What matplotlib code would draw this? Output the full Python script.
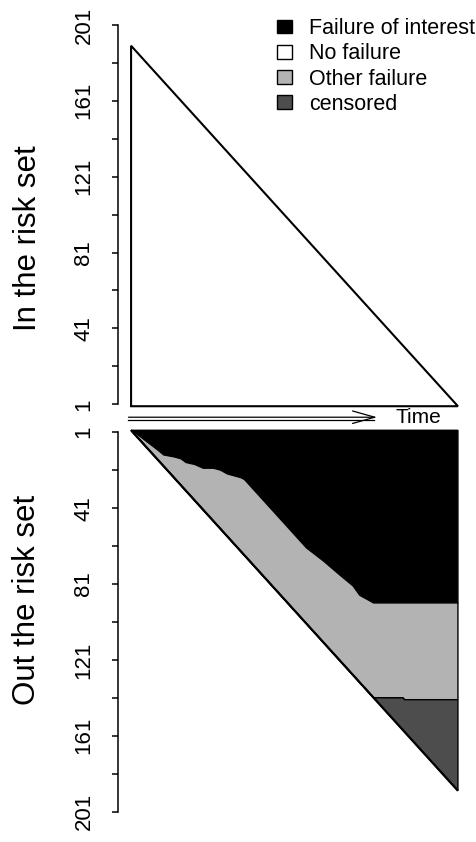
import numpy as np
import matplotlib
matplotlib.use('Agg')
import matplotlib.pyplot as plt
from matplotlib.patches import Patch

plt.rcParams['font.family'] = ['Liberation Sans', 'DejaVu Sans']

# number of subjects, ordered by time
n = 190

# in the risk set: straight decrease from n to 0
risk_idx = [0, n]
at_risk = [n, 0]

# cumulative failures of interest
idx = [0, 2, 15, 19, 25, 29, 32, 37, 42, 48, 52, 56, 64, 66, 71, 82, 92, 102, 112, 121, 129, 133, 137, 141, 190]
cum_interest = [0, 1, 10, 13, 14, 15, 17, 18, 20, 20, 21, 23, 25, 26, 31, 42, 52, 62, 69, 76, 82, 87, 89, 91, 91]

# cumulative failures of any cause (rest out of the risk set is censored)
evt_idx = [0, 141, 158, 159, 190]
evt_count = [0, 141, 141, 142, 142]

yticks = list(range(1, 202, 20))
ylabels = [str(t) if (t - 1) % 40 == 0 else '' for t in yticks]

col_interest = '#000000'
col_none = '#FFFFFF'
col_other = '#B3B3B3'
col_cens = '#4D4D4D'

W, H = 476, 842
fig = plt.figure(figsize=(W / 100, H / 100), dpi=100)

def px_axes(left, top, right, bottom):
    return fig.add_axes([left / W, 1 - bottom / H, (right - left) / W, (bottom - top) / H])

ax1 = px_axes(118, 9.7, 471, 419.5)
ax2 = px_axes(118, 417.0, 471, 826.8)

for ax in (ax1, ax2):
    ax.set_facecolor('none')
    ax.set_xlim(-7.6, n + 7.6)
    for s in ('top', 'right', 'bottom'):
        ax.spines[s].set_visible(False)
    ax.spines['left'].set_bounds(1, 201)
    ax.spines['left'].set_linewidth(1.1)
    ax.set_xticks([])
    ax.set_yticks(yticks)
    ax.set_yticklabels(ylabels, rotation=90, va='center')
    ax.tick_params(axis='y', length=4, width=1.1, pad=13, labelsize=16)

ax1.set_ylim(-7, 209)
ax2.set_ylim(209, -7)

# top panel: still in the risk set
ax1.fill([risk_idx[0]] + risk_idx, [0] + at_risk, facecolor=col_none,
         edgecolor='black', linewidth=1.5)

# bottom panel: out of the risk set
bx = idx + [n, 0]
by = cum_interest + [0, 0]
ax2.fill(bx, by, facecolor=col_interest, edgecolor='black', linewidth=1)
gx = idx + evt_idx[::-1]
gy = cum_interest + evt_count[::-1]
ax2.fill(gx, gy, facecolor=col_other, edgecolor='black', linewidth=1)
cx = evt_idx + [n]
cy = evt_count + [n]
ax2.fill(cx, cy, facecolor=col_cens, edgecolor='black', linewidth=1)
ax2.plot([0, n], [0, n], color='black', linewidth=1.6, solid_capstyle='butt')

# time arrow between the panels
ax1.annotate('', xy=(143, -5.8), xytext=(-1.5, -5.8), annotation_clip=False,
             arrowprops=dict(arrowstyle='->,head_length=1.6,head_width=0.45',
                             color='black', lw=0.9, shrinkA=0, shrinkB=0))
ax1.plot([-1.5, 141], [-7.5, -7.5], color='black', lw=0.9, clip_on=False)
fig.text(395 / W, 1 - 423 / H, 'Time', fontsize=15, ha='left', va='baseline')

fig.text(28 / W, 1 - 238 / H, 'In the risk set', fontsize=22.5, rotation=90,
         ha='center', va='center')
fig.text(27 / W, 1 - 600 / H, 'Out the risk set', fontsize=22.5, rotation=90,
         ha='center', va='center')

handles = [Patch(facecolor=c, edgecolor='black', linewidth=1)
           for c in (col_interest, col_none, col_other, col_cens)]
labels = ['Failure of interest', 'No failure', 'Other failure', 'censored']
fig.legend(handles, labels, loc='upper left', bbox_to_anchor=(277 / W, 1 - 18 / H),
           frameon=False, fontsize=15.5, borderpad=0, borderaxespad=0,
           handlelength=0.7, handleheight=0.6, handletextpad=0.78,
           labelspacing=0.2)

fig.savefig('out.png', dpi=100)
